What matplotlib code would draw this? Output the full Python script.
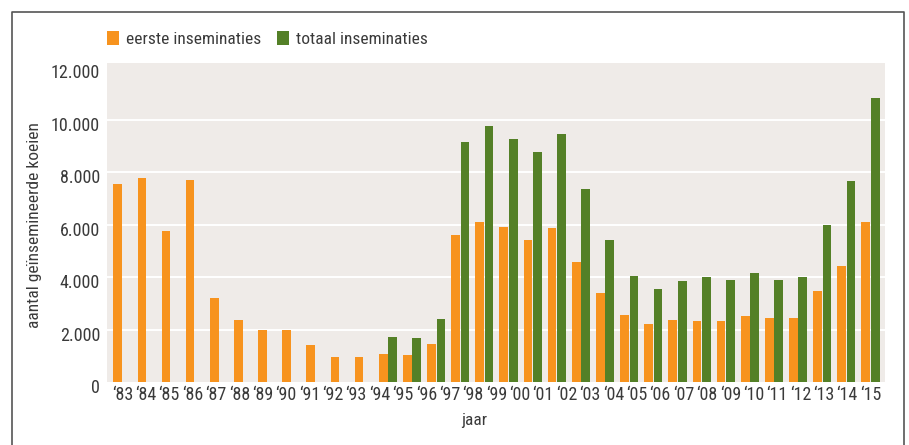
#!/usr/bin/env python3
"""Bar chart: eerste en totaal inseminaties per jaar."""

import matplotlib
matplotlib.use("Agg")
import matplotlib.pyplot as plt
import matplotlib.transforms as mtransforms
import numpy as np
from matplotlib.lines import Line2D
from matplotlib.patches import Patch

# tick labels on the x axis (33 labels, spread over the 32 bar groups)
year_labels = ["\u201883", "\u201884", "\u201885", "\u201886", "\u201887", "\u201888",
               "\u201889", "\u201890", "\u201891", "\u201892", "\u201893", "\u201894",
               "\u201895", "\u201896", "\u201897", "\u201898", "\u201899", "\u201800",
               "\u201801", "\u201802", "\u201803", "\u201804", "\u201805", "\u201806",
               "\u201807", "\u201808", "\u201809", "\u201810", "\u201811", "\u201812",
               "\u201813", "\u201814", "\u201815"]

# bar values per group
eerste = [7550, 7800, 5750, 7700, 3200, 2350, 2000, 1980, 1400, 950, 950,
          1050, 1030, 1450, 5600, 6100, 5900, 5420, 5880, 4580, 3400, 2560,
          2210, 2370, 2330, 2330, 2520, 2440, 2440, 3470, 4430, 6100]
totaal = [0, 0, 0, 0, 0, 0, 0, 0, 0, 0, 0,
          1700, 1680, 2400, 9150, 9770, 9270, 8780, 9460, 7370, 5420, 4050,
          3550, 3850, 4010, 3890, 4160, 3890, 4010, 5990, 7670, 10840]

y_ticks = [0, 2000, 4000, 6000, 8000, 10000, 12000]
y_tick_labels = ["0", "2.000", "4.000", "6.000", "8.000", "10.000", "12.000"]

ORANGE = "#F7931E"
GREEN = "#548027"
BG = "#EFEBE8"
TEXT = "#3A3A3A"

plt.rcParams["font.family"] = ["Roboto Condensed", "Archivo Narrow", "Liberation Sans Narrow", "DejaVu Sans"]
plt.rcParams["text.color"] = TEXT

fig = plt.figure(figsize=(9.09, 4.45), dpi=100)
ax = fig.add_axes([107 / 909, 63 / 445, 778 / 909, 319 / 445])
ax.set_facecolor(BG)

n = len(eerste)
x = np.arange(n)
w = 0.36
ax.bar(x - 0.195, eerste, width=w, color=ORANGE, zorder=3)
ax.bar(x + 0.195, totaal, width=w, color=GREEN, zorder=3)

ax.set_xlim(-0.64, n - 1 + 0.6)
ax.set_ylim(0, 12170)

# labels are spaced a little tighter than the bars in the original
ax.set_xticks(np.arange(len(year_labels)) * (n - 1) / (len(year_labels) - 1))
ax.set_xticklabels(year_labels)
ax.set_yticks(y_ticks)
ax.set_yticklabels(y_tick_labels)
ax.tick_params(axis="both", length=0, labelsize=13, colors=TEXT)
ax.tick_params(axis="x", pad=3)
ax.tick_params(axis="y", pad=5)
shift = mtransforms.ScaledTranslation(0, -4 / 100, fig.dpi_scale_trans)
for lab in ax.get_yticklabels():
    lab.set_transform(lab.get_transform() + shift)

# white gridlines, none at the top value
for yv in y_ticks[1:-1]:
    ax.axhline(yv, color="white", linewidth=1.4, zorder=1)
for s in ax.spines.values():
    s.set_visible(False)

ax.set_ylabel("aantal ge\u00efnsemineerde koeien", fontsize=12.5, color=TEXT)
ax.yaxis.set_label_coords(-65 / 778, 0.5 - 2.5 / 319)
ax.set_xlabel("jaar", fontsize=12.5, color=TEXT)
ax.xaxis.set_label_coords(367 / 778, -31 / 319)

handles = [Patch(facecolor=ORANGE, label="eerste inseminaties"),
           Patch(facecolor=GREEN, label="totaal inseminaties")]
fig.legend(handles=handles, loc="center left", bbox_to_anchor=(91 / 909, 1 - 39 / 445),
           ncol=2, frameon=False, fontsize=12.5, handlelength=0.7, handleheight=0.9,
           handletextpad=0.4, columnspacing=0.9)

# outer frame, open at the bottom
frame = Line2D([12 / 909, 12 / 909, 904 / 909, 904 / 909],
               [-0.05, 1 - 12 / 445, 1 - 12 / 445, -0.05],
               transform=fig.transFigure, color="#555555", linewidth=1.2)
fig.add_artist(frame)

fig.savefig("out.png", dpi=100)
